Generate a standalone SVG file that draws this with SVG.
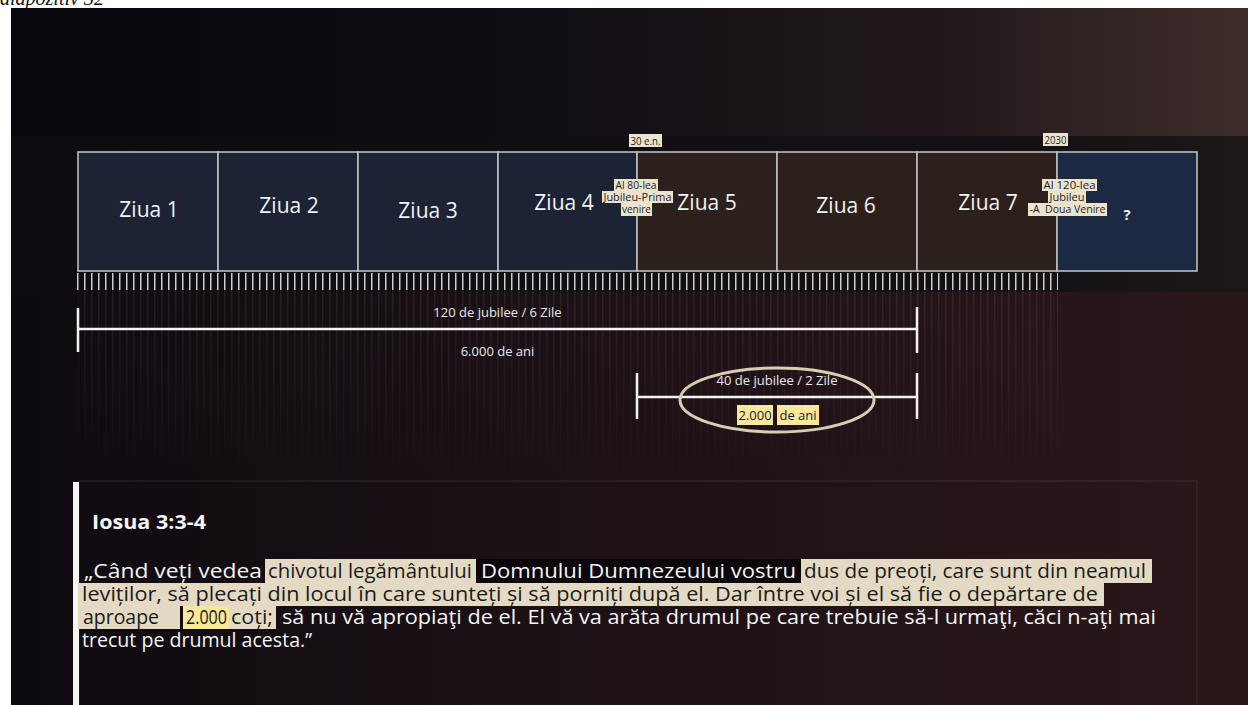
<svg xmlns="http://www.w3.org/2000/svg" width="1248" height="705" viewBox="0 0 1248 705">
<defs>
<style>
.day{fill:#f2f2f2;font-family:"Open Sans","Noto Sans",sans-serif;font-size:21px;text-anchor:middle}
.box{stroke:#bdbdbd;stroke-width:1.6}
.navy{fill:#1c2334}
.brown{fill:#2c201d}
.tag{fill:#ebe3cd}
.tagt{font-family:"Open Sans","Noto Sans",sans-serif;font-size:10px;fill:#1e1e1e;text-anchor:middle}
.br{stroke:#f2f2f2;stroke-width:2.5;fill:none}
.lbl{font-family:"Open Sans","Noto Sans",sans-serif;font-size:13px;fill:#e8e8e8;text-anchor:middle}
.para{font-family:"Open Sans","Noto Sans",sans-serif;font-size:20px;fill:#f5f5f5}
.dk{fill:#1a1a1a}
.hl{fill:#e4dac4}
.yl{fill:#f8e79c}
</style>
<linearGradient id="bgTop" x1="0" y1="0" x2="1" y2="0">
<stop offset="0" stop-color="#08060d"/>
<stop offset="0.45" stop-color="#120e15"/>
<stop offset="0.75" stop-color="#21181b"/>
<stop offset="1" stop-color="#3f2e2b"/>
</linearGradient>
<linearGradient id="bgLow" x1="0" y1="0" x2="1" y2="0">
<stop offset="0" stop-color="#0e0b10"/>
<stop offset="0.4" stop-color="#1a1016"/>
<stop offset="1" stop-color="#2a171a"/>
</linearGradient>
<linearGradient id="band" x1="0" y1="0" x2="1" y2="0">
<stop offset="0" stop-color="#0d0c10"/>
<stop offset="0.8" stop-color="#121014"/>
<stop offset="1" stop-color="#1d1717"/>
</linearGradient>
<linearGradient id="fade" x1="0" y1="0" x2="0" y2="1">
<stop offset="0" stop-color="#fff" stop-opacity="1"/>
<stop offset="1" stop-color="#fff" stop-opacity="0"/>
</linearGradient>
<mask id="stripeMask"><rect x="0" y="290" width="1248" height="200" fill="url(#fade)"/></mask>
<pattern id="tickPat" x="77" y="273" width="7" height="17" patternUnits="userSpaceOnUse"><rect x="0" y="0" width="1.5" height="17" fill="#cdcdcd"/></pattern>
<pattern id="stripePat" x="77" y="0" width="7" height="10" patternUnits="userSpaceOnUse"><rect x="0" y="0" width="1.5" height="10" fill="#ffffff" fill-opacity="0.07"/></pattern>
</defs>

<rect x="0" y="0" width="1248" height="705" fill="#ffffff"/>
<text x="0" y="5" font-family="'Liberation Serif',serif" font-style="italic" font-size="20" fill="#111">diapozitiv 32</text>

<g id="background">
<rect x="11" y="8" width="1237" height="697" fill="url(#bgLow)"/>
<rect x="11" y="8" width="1237" height="130" fill="url(#bgTop)"/>
<rect x="11" y="136" width="1237" height="156" fill="url(#band)"/>
<rect x="78" y="290" width="980" height="200" fill="url(#stripePat)" mask="url(#stripeMask)"/>
</g>

<g id="days">
<g id="day1"><rect class="box navy" x="78" y="152" width="140" height="119"/><text class="day" x="149" y="217">Ziua 1</text></g>
<g id="day2"><rect class="box navy" x="218" y="152" width="140" height="119"/><text class="day" x="289" y="213">Ziua 2</text></g>
<g id="day3"><rect class="box navy" x="358" y="152" width="140" height="119"/><text class="day" x="428" y="218">Ziua 3</text></g>
<g id="day4"><rect class="box navy" x="498" y="152" width="139" height="119"/><text class="day" x="564" y="210">Ziua 4</text></g>
<g id="day5"><rect class="box brown" x="637" y="152" width="140" height="119"/><text class="day" x="707" y="210">Ziua 5</text></g>
<g id="day6"><rect class="box brown" x="777" y="152" width="140" height="119"/><text class="day" x="846" y="213">Ziua 6</text></g>
<g id="day7"><rect class="box brown" x="917" y="152" width="140" height="119"/><text class="day" x="988" y="210">Ziua 7</text></g>
<g id="day8"><rect class="box" x="1057" y="152" width="140" height="119" fill="#1b2a42"/><text x="1127" y="220" font-family="'Open Sans',sans-serif" font-size="15" font-weight="bold" fill="#eeeeee" text-anchor="middle">?</text></g>
</g>

<g id="ticks"><rect x="77" y="273" width="981" height="17" fill="url(#tickPat)"/></g>

<g id="tag30">
<rect class="tag" x="629" y="134" width="33" height="13"/>
<text class="tagt" x="645.5" y="144.5" textLength="30" lengthAdjust="spacingAndGlyphs">30 e.n.</text>
</g>
<g id="tag2030">
<rect class="tag" x="1043" y="133" width="25" height="13"/>
<text class="tagt" x="1055.5" y="143.5" textLength="22" lengthAdjust="spacingAndGlyphs">2030</text>
</g>
<g id="tag80">
<rect class="tag" x="614" y="179" width="44" height="12"/>
<rect class="tag" x="602" y="191" width="71" height="12"/>
<rect class="tag" x="621" y="203" width="31" height="13"/>
<text class="tagt" x="636" y="189" textLength="41" lengthAdjust="spacingAndGlyphs">Al 80-lea</text>
<text class="tagt" x="637.5" y="201" textLength="68" lengthAdjust="spacingAndGlyphs">Jubileu-Prima</text>
<text class="tagt" x="636.5" y="213" textLength="29" lengthAdjust="spacingAndGlyphs">venire</text>
</g>
<g id="tag120">
<rect class="tag" x="1042" y="179" width="55" height="12"/>
<rect class="tag" x="1048" y="191" width="38" height="12"/>
<rect class="tag" x="1028" y="203" width="79" height="13"/>
<text class="tagt" x="1069.5" y="189" textLength="52" lengthAdjust="spacingAndGlyphs">Al 120-lea</text>
<text class="tagt" x="1067" y="201" textLength="35" lengthAdjust="spacingAndGlyphs">Jubileu</text>
<text class="tagt" x="1067.5" y="213" textLength="76" lengthAdjust="spacingAndGlyphs" xml:space="preserve">-A  Doua Venire</text>
</g>

<g id="connectors">
<path class="br" d="M78 308V352M78 329H917M917 307V353"/>
<path class="br" d="M637 373V419M637 397H917M917 373V419"/>
<ellipse cx="777" cy="400" rx="97" ry="32" fill="none" stroke="#d7cdb3" stroke-width="3"/>
</g>

<g id="span120">
<text class="lbl" x="497.5" y="317">120 de jubilee / 6 Zile</text>
<text class="lbl" x="497.5" y="356">6.000 de ani</text>
</g>
<g id="span40">
<text class="lbl" x="777" y="385">40 de jubilee / 2 Zile</text>
<rect class="yl" x="737" y="405" width="36" height="20"/>
<rect class="yl" x="777" y="405" width="42" height="20"/>
<text class="lbl" x="755" y="420" style="fill:#1e1e1e">2.000</text>
<text class="lbl" x="798" y="420" style="fill:#1e1e1e">de ani</text>
</g>

<g id="verse">
<rect x="79" y="481" width="1118" height="230" fill="none" stroke="#ffffff" stroke-opacity="0.1" stroke-width="1"/>
<rect x="73" y="482" width="6" height="223" fill="#f5f5f5"/>
<text x="92" y="529" font-family="'Open Sans','Noto Sans',sans-serif" font-size="19" font-weight="bold" fill="#f5f5f5" textLength="114" lengthAdjust="spacingAndGlyphs">Iosua 3:3-4</text>

<rect class="hl" x="265" y="559" width="211" height="24"/>
<rect x="476" y="559" width="325" height="24" fill="#0a0609"/>
<rect class="hl" x="801" y="559" width="351" height="24"/>
<rect class="hl" x="78" y="583" width="1026" height="23"/>
<rect class="hl" x="78" y="606" width="102" height="23"/>
<rect class="yl" x="183" y="606" width="46" height="23"/>
<rect class="hl" x="229" y="606" width="47" height="23"/>

<text class="para" x="84" y="578" textLength="178" lengthAdjust="spacingAndGlyphs">„Când veți vedea</text>
<text class="para dk" x="268" y="578" textLength="204" lengthAdjust="spacingAndGlyphs">chivotul legământului</text>
<text class="para" x="481" y="578" textLength="315" lengthAdjust="spacingAndGlyphs">Domnului Dumnezeului vostru</text>
<text class="para dk" x="804" y="578" textLength="342" lengthAdjust="spacingAndGlyphs">dus de preoți, care sunt din neamul</text>
<text class="para dk" x="82" y="601" textLength="1016" lengthAdjust="spacingAndGlyphs">leviților, să plecați din locul în care sunteți și să porniți după el. Dar între voi și el să fie o depărtare de</text>
<text class="para dk" x="83" y="624" textLength="76" lengthAdjust="spacingAndGlyphs">aproape</text>
<text class="para dk" x="186" y="624" textLength="41" lengthAdjust="spacingAndGlyphs">2.000</text>
<text class="para dk" x="231" y="624" textLength="42" lengthAdjust="spacingAndGlyphs">coți;</text>
<text class="para" x="282" y="624" textLength="874" lengthAdjust="spacingAndGlyphs">să nu vă apropiaţi de el. El vă va arăta drumul pe care trebuie să-l urmaţi, căci n-aţi mai</text>
<text class="para" x="82" y="647" textLength="230" lengthAdjust="spacingAndGlyphs">trecut pe drumul acesta.”</text>
</g>
</svg>
